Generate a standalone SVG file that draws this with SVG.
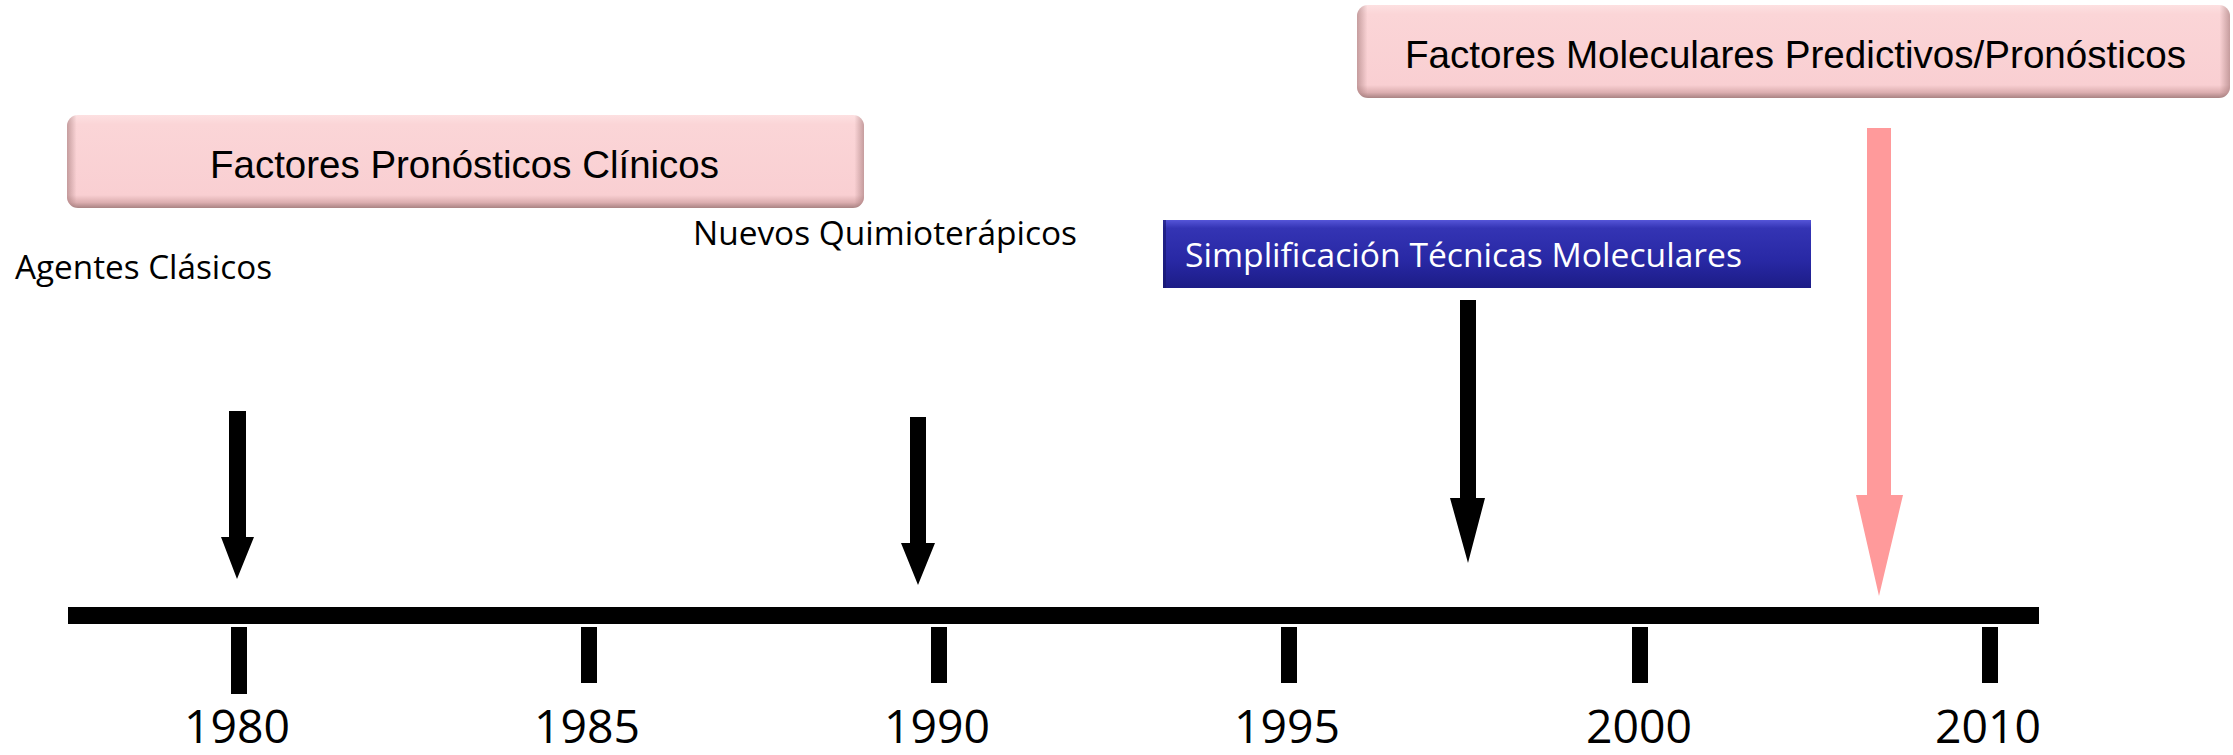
<svg xmlns="http://www.w3.org/2000/svg" width="2233" height="755" viewBox="0 0 2233 755">
<defs>
<linearGradient id="pinkV" x1="0" y1="0" x2="0" y2="1">
<stop offset="0" stop-color="#fde0e1"/>
<stop offset="0.1" stop-color="#fbd5d7"/>
<stop offset="0.86" stop-color="#f9cfd2"/>
<stop offset="0.94" stop-color="#dcaeb0"/>
<stop offset="1" stop-color="#a98383"/>
</linearGradient>
<linearGradient id="pinkH" x1="0" y1="0" x2="1" y2="0">
<stop offset="0" stop-color="#9a7070" stop-opacity="0.55"/>
<stop offset="0.012" stop-color="#9a7070" stop-opacity="0"/>
<stop offset="0.988" stop-color="#9a7070" stop-opacity="0"/>
<stop offset="1" stop-color="#9a7070" stop-opacity="0.55"/>
</linearGradient>
<linearGradient id="blueV" x1="0" y1="0" x2="0" y2="1">
<stop offset="0" stop-color="#5555d8"/>
<stop offset="0.12" stop-color="#3434b4"/>
<stop offset="0.6" stop-color="#2828a4"/>
<stop offset="1" stop-color="#1c1c86"/>
</linearGradient>
<style>
.box-text{font-family:"Liberation Sans",Arial,sans-serif;font-size:38.5px;fill:#000}
.label{font-family:"Open Sans","Noto Sans",sans-serif;font-size:33px;fill:#000}
.year{font-family:"Open Sans","Noto Sans",sans-serif;font-size:45px;fill:#000;text-anchor:middle}
.arrow-black{fill:#000}
.arrow-pink{fill:#ff9a9b}
.axis{fill:#000}
</style>
</defs>
<rect width="2233" height="755" fill="#fff"/>

<g id="node-factores-clinicos">
<rect x="67" y="115" width="797" height="93" rx="11" fill="url(#pinkV)"/>
<rect x="67" y="115" width="797" height="93" rx="11" fill="url(#pinkH)"/>
<text class="box-text" x="210" y="178" textLength="509" lengthAdjust="spacingAndGlyphs">Factores Pronósticos Clínicos</text>
</g>

<g id="node-factores-moleculares">
<rect x="1357" y="5" width="873" height="93" rx="11" fill="url(#pinkV)"/>
<rect x="1357" y="5" width="873" height="93" rx="11" fill="url(#pinkH)"/>
<text class="box-text" x="1405" y="68" textLength="781" lengthAdjust="spacingAndGlyphs">Factores Moleculares Predictivos/Pronósticos</text>
</g>

<g id="node-simplificacion">
<rect x="1163" y="220" width="648" height="68" fill="url(#blueV)"/>
<rect x="1163" y="220" width="3" height="68" fill="#15156a" opacity="0.6"/>
<text class="label" x="1185" y="267" style="fill:#fff" textLength="557" lengthAdjust="spacingAndGlyphs">Simplificación Técnicas Moleculares</text>
</g>

<g id="node-agentes">
<text class="label" x="15" y="279" textLength="257" lengthAdjust="spacingAndGlyphs">Agentes Clásicos</text>
</g>

<g id="node-nuevos">
<text class="label" x="693" y="245" textLength="384" lengthAdjust="spacingAndGlyphs">Nuevos Quimioterápicos</text>
</g>

<g id="timeline">
<rect class="axis" x="68" y="607" width="1971" height="17"/>
<rect class="axis" x="231" y="627" width="16" height="67"/>
<rect class="axis" x="581" y="627" width="16" height="56"/>
<rect class="axis" x="931" y="627" width="16" height="56"/>
<rect class="axis" x="1281" y="627" width="16" height="56"/>
<rect class="axis" x="1632" y="627" width="16" height="56"/>
<rect class="axis" x="1982" y="627" width="16" height="56"/>
<text class="year" x="237" y="743" textLength="106" lengthAdjust="spacingAndGlyphs">1980</text>
<text class="year" x="587" y="743" textLength="106" lengthAdjust="spacingAndGlyphs">1985</text>
<text class="year" x="937" y="743" textLength="106" lengthAdjust="spacingAndGlyphs">1990</text>
<text class="year" x="1287" y="743" textLength="106" lengthAdjust="spacingAndGlyphs">1995</text>
<text class="year" x="1639" y="743" textLength="106" lengthAdjust="spacingAndGlyphs">2000</text>
<text class="year" x="1988" y="743" textLength="106" lengthAdjust="spacingAndGlyphs">2010</text>
</g>

<g id="connectors">
<path class="arrow-black" d="M229,411 H246 V537 H254 L237,579 L221,537 H229 Z"/>
<path class="arrow-black" d="M910,417 H926 V543 H935 L918,585 L901,543 H910 Z"/>
<path class="arrow-black" d="M1460,300 H1476 V498 H1485 L1468,563 L1450,498 H1460 Z"/>
<path class="arrow-pink" d="M1867,128 H1891 V495 H1903 L1879,596 L1856,495 H1867 Z"/>
</g>
</svg>
